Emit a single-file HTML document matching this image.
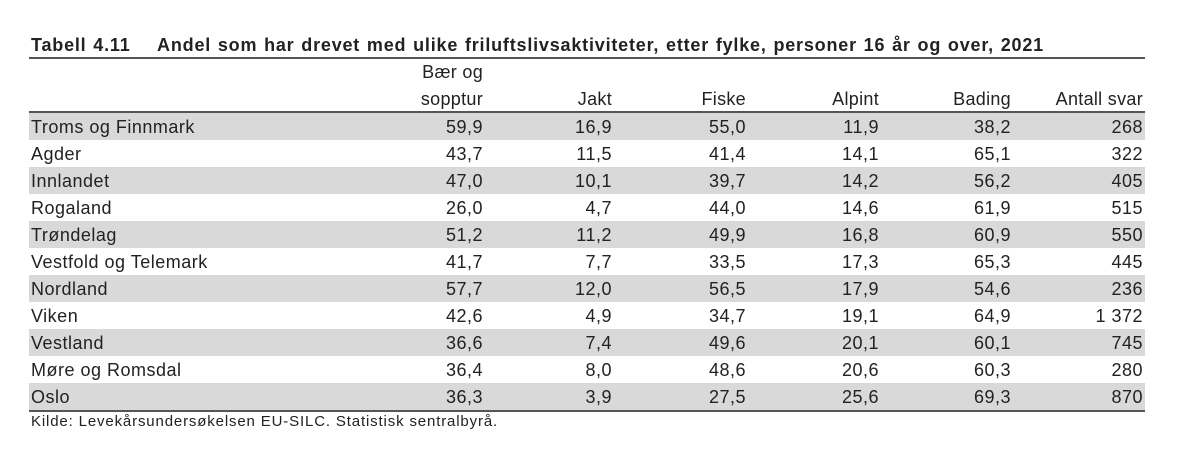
<!DOCTYPE html>
<html><head><meta charset="utf-8"><style>
body{margin:0;width:1200px;height:455px;background:#fff;font-family:"Liberation Sans",sans-serif;color:#222;position:relative;overflow:hidden}
.t{position:absolute;left:31px;top:35px;font-weight:bold;font-size:18px;white-space:nowrap;letter-spacing:0.8px;word-spacing:1px}
.rule{position:absolute;left:29px;width:1116px;background:#555}
.row{position:absolute;left:29px;width:1116px;height:27px;font-size:18px;line-height:28px;letter-spacing:0.5px}
.g{background:#d9d9d9}
.row span,.h span{position:absolute;text-align:right;white-space:nowrap}
.row span.n{left:2px;text-align:left}
.h{position:absolute;left:29px;width:1116px;font-size:18px;letter-spacing:0.3px}
.foot{position:absolute;left:31px;top:413px;font-size:15px;letter-spacing:0.85px}
</style></head><body>
<div class="t">Tabell 4.11&nbsp;&nbsp;&nbsp; Andel som har drevet med ulike friluftslivsaktiviteter, etter fylke, personer 16 år og over, 2021</div>
<div class="rule" style="top:57px;height:2px"></div>
<div class="h" style="top:62px;height:50px">
<span style="right:662px;top:0">Bær og</span>
<span style="right:662px;top:27px">sopptur</span>
<span style="right:533px;top:27px">Jakt</span>
<span style="right:399px;top:27px">Fiske</span>
<span style="right:266px;top:27px">Alpint</span>
<span style="right:134px;top:27px">Bading</span>
<span style="right:2px;top:27px">Antall svar</span>
</div>
<div class="rule" style="top:111px;height:2px"></div>
<div class="rule" style="top:410px;height:2px"></div>
<div class="foot">Kilde: Levekårsundersøkelsen EU-SILC. Statistisk sentralbyrå.</div>
<div style="position:absolute;top:113px;left:0">
<div class="row g" style="top:0"><span class="n">Troms og Finnmark</span><span style="right:662px">59,9</span><span style="right:533px">16,9</span><span style="right:399px">55,0</span><span style="right:266px">11,9</span><span style="right:134px">38,2</span><span style="right:2px">268</span></div>
<div class="row" style="top:27px"><span class="n">Agder</span><span style="right:662px">43,7</span><span style="right:533px">11,5</span><span style="right:399px">41,4</span><span style="right:266px">14,1</span><span style="right:134px">65,1</span><span style="right:2px">322</span></div>
<div class="row g" style="top:54px"><span class="n">Innlandet</span><span style="right:662px">47,0</span><span style="right:533px">10,1</span><span style="right:399px">39,7</span><span style="right:266px">14,2</span><span style="right:134px">56,2</span><span style="right:2px">405</span></div>
<div class="row" style="top:81px"><span class="n">Rogaland</span><span style="right:662px">26,0</span><span style="right:533px">4,7</span><span style="right:399px">44,0</span><span style="right:266px">14,6</span><span style="right:134px">61,9</span><span style="right:2px">515</span></div>
<div class="row g" style="top:108px"><span class="n">Trøndelag</span><span style="right:662px">51,2</span><span style="right:533px">11,2</span><span style="right:399px">49,9</span><span style="right:266px">16,8</span><span style="right:134px">60,9</span><span style="right:2px">550</span></div>
<div class="row" style="top:135px"><span class="n">Vestfold og Telemark</span><span style="right:662px">41,7</span><span style="right:533px">7,7</span><span style="right:399px">33,5</span><span style="right:266px">17,3</span><span style="right:134px">65,3</span><span style="right:2px">445</span></div>
<div class="row g" style="top:162px"><span class="n">Nordland</span><span style="right:662px">57,7</span><span style="right:533px">12,0</span><span style="right:399px">56,5</span><span style="right:266px">17,9</span><span style="right:134px">54,6</span><span style="right:2px">236</span></div>
<div class="row" style="top:189px"><span class="n">Viken</span><span style="right:662px">42,6</span><span style="right:533px">4,9</span><span style="right:399px">34,7</span><span style="right:266px">19,1</span><span style="right:134px">64,9</span><span style="right:2px">1 372</span></div>
<div class="row g" style="top:216px"><span class="n">Vestland</span><span style="right:662px">36,6</span><span style="right:533px">7,4</span><span style="right:399px">49,6</span><span style="right:266px">20,1</span><span style="right:134px">60,1</span><span style="right:2px">745</span></div>
<div class="row" style="top:243px"><span class="n">Møre og Romsdal</span><span style="right:662px">36,4</span><span style="right:533px">8,0</span><span style="right:399px">48,6</span><span style="right:266px">20,6</span><span style="right:134px">60,3</span><span style="right:2px">280</span></div>
<div class="row g" style="top:270px"><span class="n">Oslo</span><span style="right:662px">36,3</span><span style="right:533px">3,9</span><span style="right:399px">27,5</span><span style="right:266px">25,6</span><span style="right:134px">69,3</span><span style="right:2px">870</span></div>
</div>
</body></html>
